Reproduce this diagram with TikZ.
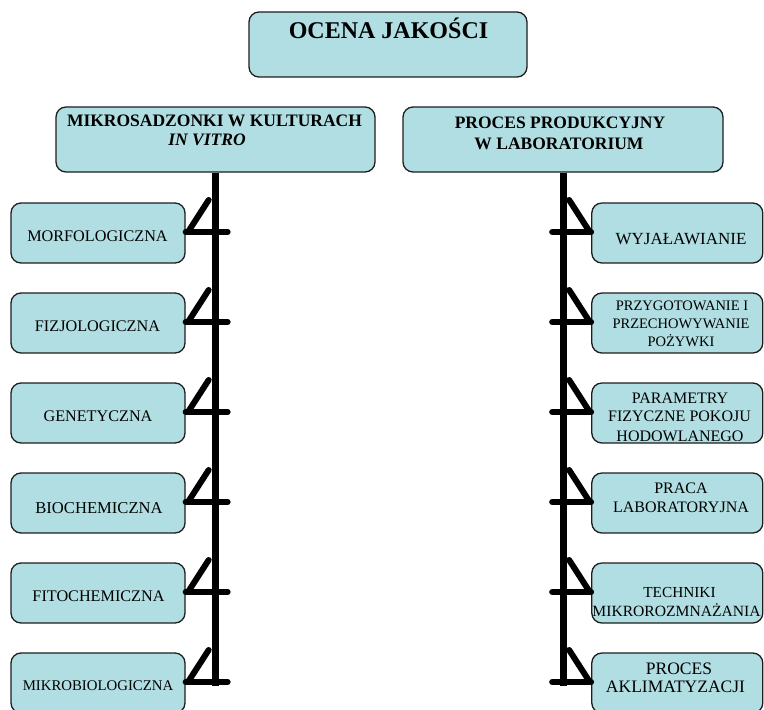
\documentclass[tikz,border=0pt]{standalone}
\usepackage{fontspec}
\setmainfont{Liberation Serif}
\definecolor{boxfill}{RGB}{176,222,226}
\definecolor{edge}{RGB}{30,30,30}
\begin{document}
\begin{tikzpicture}[x=1bp,y=-1bp,
  box/.style={draw=edge, line width=1.3bp, fill=boxfill, rounded corners=10bp, inner sep=0pt},
  lbox/.style={box, minimum width=174bp, minimum height=60bp},
  rbox/.style={box, minimum width=171bp, minimum height=60bp},
  hbox/.style={box, minimum width=319bp, minimum height=65bp},
  lbl/.style={anchor=base, inner sep=0pt, text=black},
  fs/.style={font=\fontsize{#1bp}{#1bp}\selectfont},
  bfs/.style={font=\fontsize{#1bp}{#1bp}\selectfont\bfseries},
  bifs/.style={font=\fontsize{#1bp}{#1bp}\selectfont\bfseries\itshape},
  bar/.style={line width=6bp, line cap=round, draw=black},
  trunk/.style={line width=7bp, draw=black}]
\useasboundingbox (0,0) rectangle (764,710);

% boxes
\node[box, minimum width=278bp, minimum height=65bp] (top) at (388,44.5) {};
\node[hbox] (hl) at (215.5,139.5) {};
\node[hbox, minimum width=320bp] (hr) at (563,139.5) {};

\node[lbox] (l1) at (98,233) {};
\node[lbox] (l2) at (98,323) {};
\node[lbox] (l3) at (98,413) {};
\node[lbox] (l4) at (98,503) {};
\node[lbox] (l5) at (98,593) {};
\node[lbox] (l6) at (98,683) {};

\node[rbox] (r1) at (677.3,233) {};
\node[rbox] (r2) at (677.3,323) {};
\node[rbox] (r3) at (677.3,413) {};
\node[rbox] (r4) at (677.3,503) {};
\node[rbox] (r5) at (677.3,593) {};
\node[rbox] (r6) at (677.3,683) {};

% texts
\node[lbl, bfs=24] (topt) at (388.5,38.3) {OCENA JAKOŚCI};
\node[lbl, bfs=17.5] (hl1) at (214.5,126.7) {MIKROSADZONKI W KULTURACH};
\node[lbl, bifs=17.5] (hl2) at (207,145.7) {IN VITRO};
\node[lbl, bfs=17.5] (hr1) at (560,128.3) {PROCES PRODUKCYJNY};
\node[lbl, bfs=17.5] (hr2) at (559,150) {W LABORATORIUM};

\node[lbl, fs=16.2] (l1t) at (97.5,241) {MORFOLOGICZNA};
\node[lbl, fs=16.2] (l2t) at (97.5,331.5) {FIZJOLOGICZNA};
\node[lbl, fs=16.2] (l3t) at (98,421.5) {GENETYCZNA};
\node[lbl, fs=16.6] (l4t) at (99,513.5) {BIOCHEMICZNA};
\node[lbl, fs=16.2] (l5t) at (98.5,601.5) {FITOCHEMICZNA};
\node[lbl, fs=14.8] (l6t) at (98,690.5) {MIKROBIOLOGICZNA};

\node[lbl, fs=17] (r1t) at (681,244) {WYJAŁAWIANIE};
\node[lbl, fs=14.5] (r2a) at (682,310) {PRZYGOTOWANIE I};
\node[lbl, fs=14.5] (r2b) at (681,328.3) {PRZECHOWYWANIE};
\node[lbl, fs=14.5] (r2c) at (681,346.7) {POŻYWKI};
\node[lbl, fs=16] (r3a) at (680,403) {PARAMETRY};
\node[lbl, fs=16] (r3b) at (679.5,421.7) {FIZYCZNE POKOJU};
\begin{scope}
  \clip (593,384) rectangle (762,440.5);
  \node[lbl, fs=16] (r3c) at (680,441.5) {HODOWLANEGO};
\end{scope}
\node[lbl, fs=16] (r4a) at (681,493.3) {PRACA};
\node[lbl, fs=16] (r4b) at (681,512.3) {LABORATORYJNA};
\node[lbl, fs=15.3] (r5a) at (679.5,597.5) {TECHNIKI};
\node[lbl, fs=15.6] (r5b) at (676.5,616.5) {MIKROROZMNAŻANIA};
\node[lbl, fs=17.5] (r6a) at (679,674) {PROCES};
\node[lbl, fs=17.5] (r6b) at (675.5,692) {AKLIMATYZACJI};

% trunks
\draw[trunk] (hl.south) -- ([yshift=-3bp]hl.south |- l6.east);
\draw[trunk] (hr.south) -- ([yshift=-3bp]hr.south |- r6.west);

% left connectors
\foreach \n in {l1,l2,l3,l4,l5,l6}{
  \draw[bar] ([yshift=1bp]\n.east) -- ++(42,0);
  \draw[bar] ([xshift=3bp,yshift=2bp]\n.east) -- ++(20,-31);
}
% right connectors
\foreach \n in {r1,r2,r3,r4,r5,r6}{
  \draw[bar] ([yshift=1bp]\n.west) -- ++(-39,0);
  \draw[bar] ([xshift=-2bp,yshift=2bp]\n.west) -- ++(-20,-31);
}
\end{tikzpicture}
\end{document}
